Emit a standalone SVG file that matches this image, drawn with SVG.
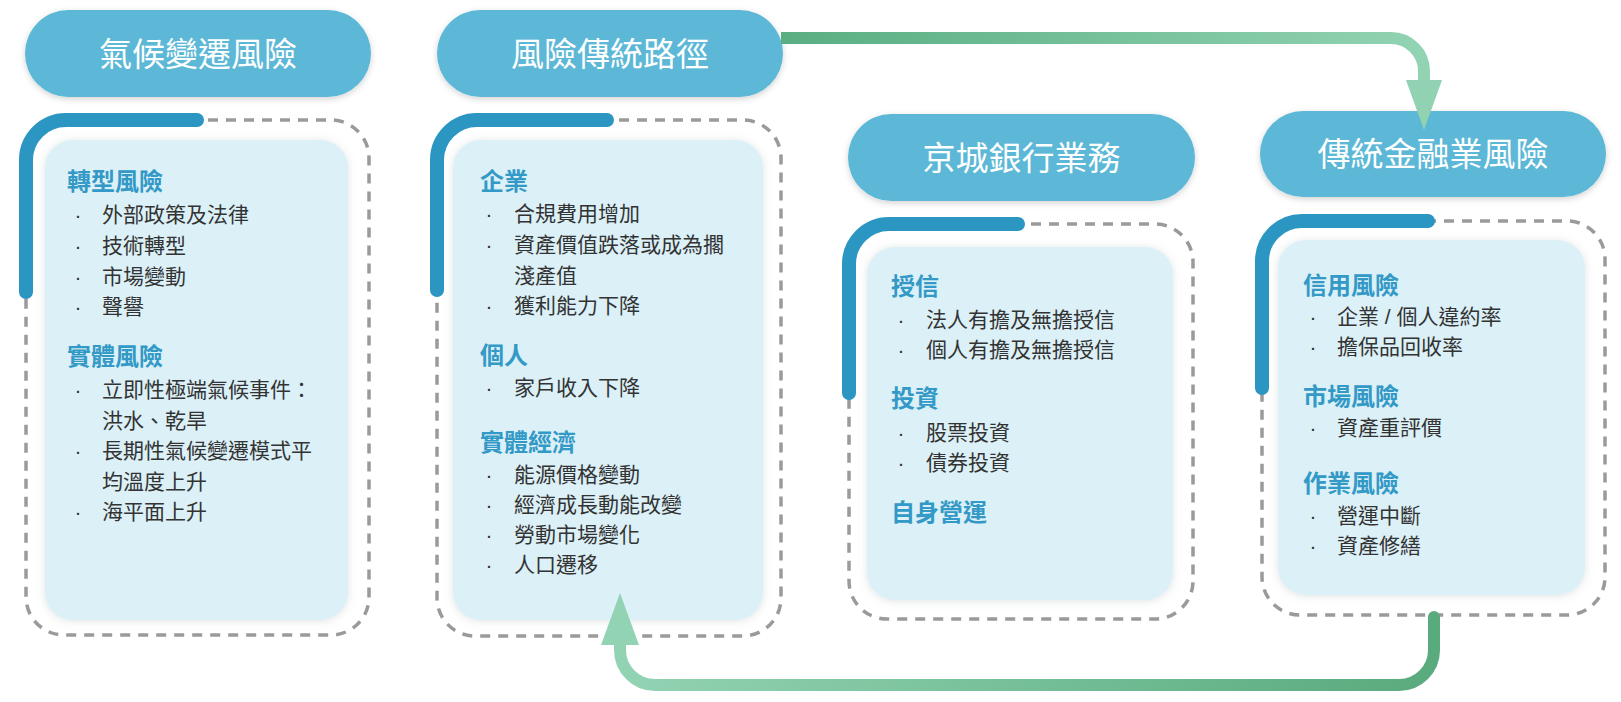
<svg xmlns="http://www.w3.org/2000/svg" width="1621" height="702" viewBox="0 0 1621 702">
<defs>
<style>
.pill{fill:#5bb8d6}
.pt{font-family:"Liberation Sans","Noto Sans CJK TC","Noto Sans CJK SC",sans-serif;font-size:33px;fill:#ffffff;text-anchor:middle}
.frame{fill:none;stroke:#9a9a9a;stroke-width:3.5;stroke-dasharray:10 8}
.accent{fill:none;stroke:#2a96c1;stroke-width:14;stroke-linecap:round}
.inner{fill:#dbf0f7}
.h{font-family:"Liberation Sans","Noto Sans CJK TC","Noto Sans CJK SC",sans-serif;font-size:24px;font-weight:700;fill:#3399c6}
.b{font-family:"Liberation Sans","Noto Sans CJK TC","Noto Sans CJK SC",sans-serif;font-size:21px;fill:#333333}
.d{text-anchor:middle}
</style>
<filter id="ps" x="-10%" y="-20%" width="120%" height="150%">
<feDropShadow dx="0" dy="2" stdDeviation="3" flood-color="#000000" flood-opacity="0.18"/>
</filter>
<filter id="is" x="-10%" y="-10%" width="120%" height="120%">
<feDropShadow dx="0" dy="1" stdDeviation="4" flood-color="#7a8a90" flood-opacity="0.25"/>
</filter>
<linearGradient id="gTop" gradientUnits="userSpaceOnUse" x1="781" y1="0" x2="1442" y2="0">
<stop offset="0" stop-color="#5aae82"/>
<stop offset="1" stop-color="#93d4b4"/>
</linearGradient>
<linearGradient id="gBot" gradientUnits="userSpaceOnUse" x1="1440" y1="0" x2="600" y2="0">
<stop offset="0" stop-color="#59aa7d"/>
<stop offset="1" stop-color="#93d4b4"/>
</linearGradient>
</defs>
<rect width="1621" height="702" fill="#ffffff"/>

<g id="node-climate">
<rect class="pill" x="25" y="10" width="346" height="87" rx="43.5" filter="url(#ps)"/>
<text class="pt" x="198" y="66">氣候變遷風險</text>
<rect class="frame" x="26" y="120" width="343" height="515" rx="38"/>
<path class="accent" d="M26,292 V160 A40,40 0 0 1 66,120 H197"/>
<rect class="inner" x="45" y="140" width="303" height="480" rx="28" filter="url(#is)"/>
<text class="h" x="67" y="190">轉型風險</text>
<g class="b">
<text class="d" x="78" y="222">·</text><text x="102" y="222">外部政策及法律</text>
<text class="d" x="78" y="253">·</text><text x="102" y="253">技術轉型</text>
<text class="d" x="78" y="284">·</text><text x="102" y="284">市場變動</text>
<text class="d" x="78" y="314">·</text><text x="102" y="314">聲譽</text>
</g>
<text class="h" x="67" y="365">實體風險</text>
<g class="b">
<text class="d" x="78" y="397">·</text><text x="102" y="397">立即性極端氣候事件：</text>
<text x="102" y="428">洪水、乾旱</text>
<text class="d" x="78" y="458">·</text><text x="102" y="458">長期性氣候變遷模式平</text>
<text x="102" y="489">均溫度上升</text>
<text class="d" x="78" y="519">·</text><text x="102" y="519">海平面上升</text>
</g>
</g>

<g id="node-path">
<rect class="pill" x="437" y="10" width="346" height="87" rx="43.5" filter="url(#ps)"/>
<text class="pt" x="610" y="66">風險傳統路徑</text>
<rect class="frame" x="437" y="120" width="344" height="516" rx="38"/>
<path class="accent" d="M437,290 V160 A40,40 0 0 1 477,120 H607"/>
<rect class="inner" x="453" y="140" width="310" height="480" rx="28" filter="url(#is)"/>
<text class="h" x="480" y="190">企業</text>
<g class="b">
<text class="d" x="489" y="221">·</text><text x="514" y="221">合規費用增加</text>
<text class="d" x="489" y="252">·</text><text x="514" y="252">資產價值跌落或成為擱</text>
<text x="514" y="283">淺產值</text>
<text class="d" x="489" y="313">·</text><text x="514" y="313">獲利能力下降</text>
</g>
<text class="h" x="480" y="364">個人</text>
<g class="b">
<text class="d" x="489" y="395">·</text><text x="514" y="395">家戶收入下降</text>
</g>
<text class="h" x="480" y="451">實體經濟</text>
<g class="b">
<text class="d" x="489" y="482">·</text><text x="514" y="482">能源價格變動</text>
<text class="d" x="489" y="512">·</text><text x="514" y="512">經濟成長動能改變</text>
<text class="d" x="489" y="542">·</text><text x="514" y="542">勞動市場變化</text>
<text class="d" x="489" y="572">·</text><text x="514" y="572">人口遷移</text>
</g>
</g>

<g id="node-bank">
<rect class="pill" x="848" y="114" width="347" height="87" rx="43.5" filter="url(#ps)"/>
<text class="pt" x="1021.5" y="170">京城銀行業務</text>
<rect class="frame" x="849" y="224" width="344" height="395" rx="38"/>
<path class="accent" d="M849,393 V264 A40,40 0 0 1 889,224 H1018"/>
<rect class="inner" x="867" y="247" width="306" height="353" rx="28" filter="url(#is)"/>
<text class="h" x="891" y="295">授信</text>
<g class="b">
<text class="d" x="901" y="327">·</text><text x="926" y="327">法人有擔及無擔授信</text>
<text class="d" x="901" y="357">·</text><text x="926" y="357">個人有擔及無擔授信</text>
</g>
<text class="h" x="891" y="407">投資</text>
<g class="b">
<text class="d" x="901" y="440">·</text><text x="926" y="440">股票投資</text>
<text class="d" x="901" y="470">·</text><text x="926" y="470">債券投資</text>
</g>
<text class="h" x="891" y="521">自身營運</text>
</g>

<g id="node-finance">
<rect class="pill" x="1260" y="111" width="346" height="86" rx="43" filter="url(#ps)"/>
<text class="pt" x="1433" y="166">傳統金融業風險</text>
<rect class="frame" x="1262" y="221" width="343" height="394" rx="38"/>
<path class="accent" d="M1262,388 V261 A40,40 0 0 1 1302,221 H1428"/>
<rect class="inner" x="1278" y="240" width="307" height="355" rx="28" filter="url(#is)"/>
<text class="h" x="1303" y="294">信用風險</text>
<g class="b">
<text class="d" x="1313" y="324">·</text><text x="1337" y="324">企業 / 個人違約率</text>
<text class="d" x="1313" y="354">·</text><text x="1337" y="354">擔保品回收率</text>
</g>
<text class="h" x="1303" y="405">市場風險</text>
<g class="b">
<text class="d" x="1313" y="435">·</text><text x="1337" y="435">資產重評價</text>
</g>
<text class="h" x="1303" y="492">作業風險</text>
<g class="b">
<text class="d" x="1313" y="523">·</text><text x="1337" y="523">營運中斷</text>
<text class="d" x="1313" y="553">·</text><text x="1337" y="553">資產修繕</text>
</g>
</g>

<g id="connectors">
<path d="M781,38 H1391 A33,33 0 0 1 1424,71 V84" fill="none" stroke="url(#gTop)" stroke-width="12"/>
<polygon points="1406,80 1442,80 1424,130" fill="#90d2b2"/>
<path d="M1434,617 V650 A35,35 0 0 1 1399,685 H655 A35,35 0 0 1 620,650 V641" fill="none" stroke="url(#gBot)" stroke-width="12" stroke-linecap="round"/>
<polygon points="601,645 639,645 620,593" fill="#92d3b3"/>
</g>
</svg>
